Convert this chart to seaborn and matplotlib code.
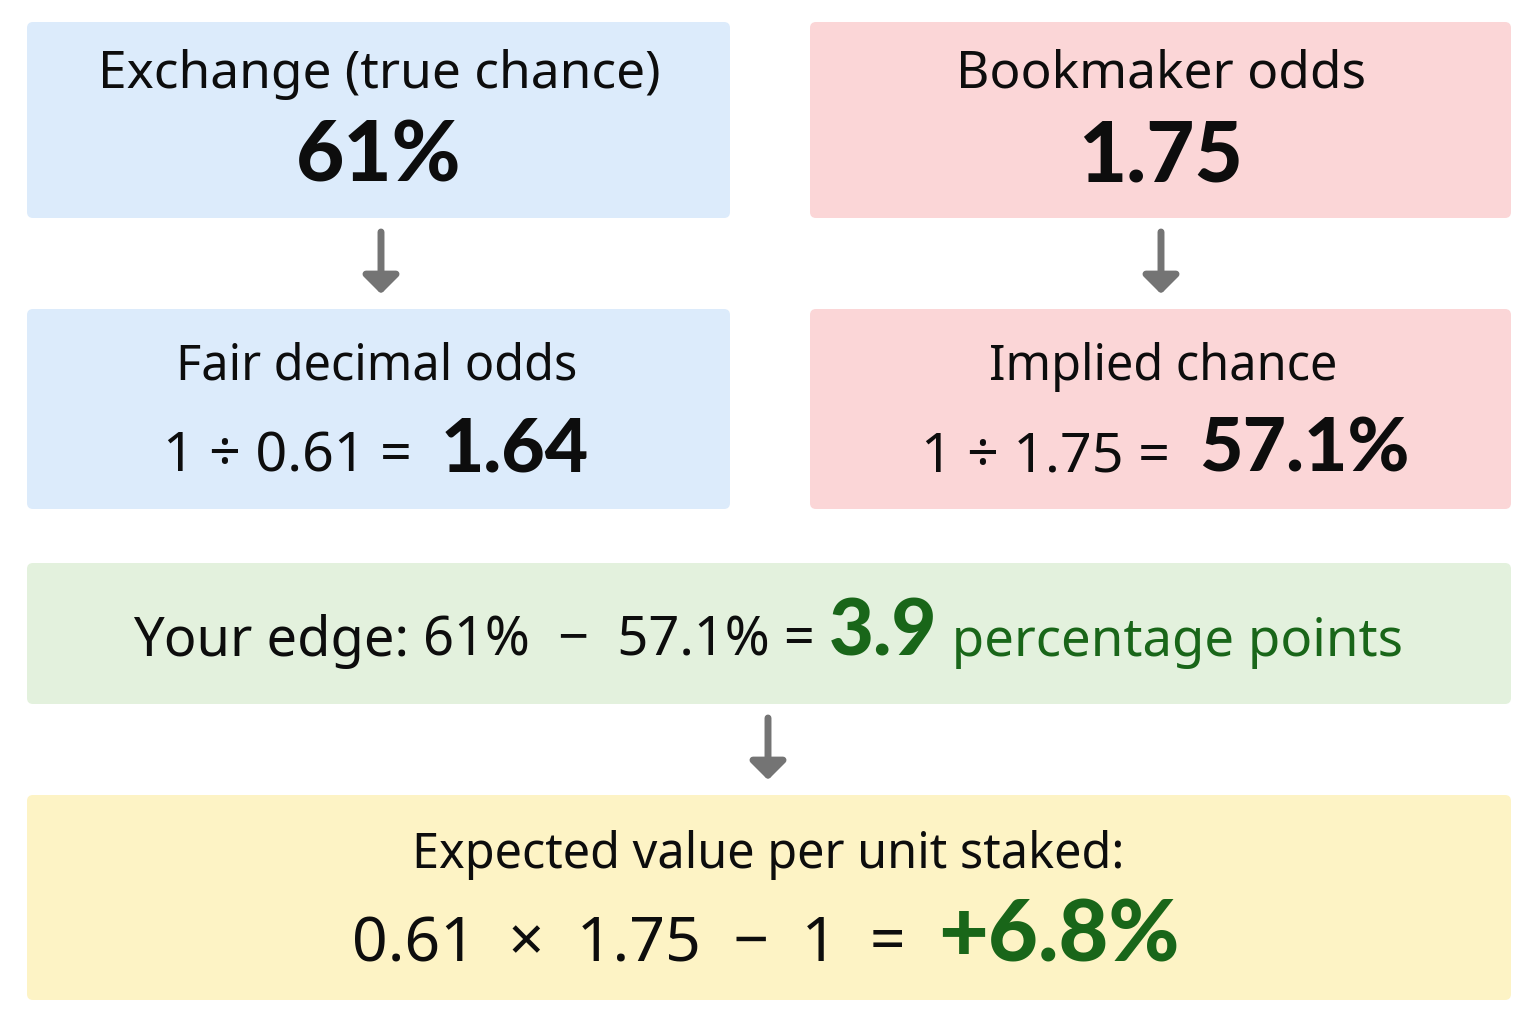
import matplotlib
matplotlib.use('Agg')
import matplotlib.pyplot as plt
from matplotlib.patches import FancyBboxPatch
import seaborn as sns

sns.set_theme(style='white')
plt.rcParams['font.family'] = ['Noto Sans', 'DejaVu Sans']
BOLD_FAMILY = ['Lato', 'Liberation Sans', 'DejaVu Sans']

# values shown in the chart
true_chance = 61
book_odds = 1.75
fair_odds = 1.64
implied_chance = 57.1
edge_points = 3.9
ev_percent = 6.8

BLUE, RED, GREEN, YELLOW = '#dcebfb', '#fbd6d7', '#e3f1dd', '#fdf3c5'
DARK_GREEN = '#196619'

fig = plt.figure(figsize=(15.36, 10.24), dpi=100)
ax = fig.add_axes([0, 0, 1, 1])
ax.set_xlim(0, 1536)
ax.set_ylim(1024, 0)
ax.axis('off')


def box(x0, y0, x1, y1, color):
    ax.add_patch(FancyBboxPatch((x0, y0), x1 - x0, y1 - y0,
                                boxstyle='round,pad=0,rounding_size=6',
                                fc=color, ec='none'))


def arrow(x, y0, y1):
    ax.annotate('', xy=(x, y1), xytext=(x, y0),
                arrowprops=dict(arrowstyle='-|>,head_width=0.9,head_length=0.9',
                                color='#747474', lw=5, shrinkA=0, shrinkB=0))


renderer = fig.canvas.get_renderer()


def line(pieces, cx, y):
    # pieces: (text, size, bold, color) drawn side by side, centred on cx
    texts, widths = [], []
    for s, size, bold, color in pieces:
        kw = dict(fontweight='black', family=BOLD_FAMILY) if bold else {}
        t = ax.text(0, y, s, fontsize=size, color=color,
                    va='baseline', ha='left', **kw)
        bb = t.get_window_extent(renderer)
        texts.append(t)
        widths.append(bb.width)
    x = cx - sum(widths) / 2
    for t, w in zip(texts, widths):
        t.set_x(x)
        x += w


box(27, 22, 730, 218, BLUE)
box(810, 22, 1511, 218, RED)
box(27, 309, 730, 509, BLUE)
box(810, 309, 1511, 509, RED)
box(27, 563, 1511, 704, GREEN)
box(27, 795, 1511, 1000, YELLOW)

arrow(381, 232, 294)
arrow(1161, 232, 294)
arrow(768, 718, 780)

k = '#0d0d0d'
line([('Exchange (true chance)', 37, False, k)], 379, 88)
line([(f'{true_chance}%', 60, True, k)], 379, 182)
line([('Bookmaker odds', 37, False, k)], 1161, 88)
line([(f'{book_odds:.2f}', 60, True, k)], 1161, 182)

line([('Fair decimal odds', 35, False, k)], 377, 380)
line([(f'1 ÷ 0.{true_chance} =  ', 40, False, k),
      (f'{fair_odds:.2f}', 54, True, k)], 376, 472)
line([('Implied chance', 35, False, k)], 1163, 380)
line([(f'1 ÷ {book_odds:.2f} =  ', 40, False, k),
      (f'{implied_chance}%', 54, True, k)], 1165, 472)

line([('Your edge: ', 39, False, k),
      (f'{true_chance}%  −  {implied_chance}% = ', 39, False, k),
      (f'{edge_points}', 56, True, DARK_GREEN),
      (' percentage points', 38, False, DARK_GREEN)], 768, 656)

line([('Expected value per unit staked:', 35, False, k)], 768, 868)
line([(f'0.{true_chance}  ×  {book_odds:.2f}  −  1  =  ', 45, False, k),
      (f'+{ev_percent}%', 62, True, DARK_GREEN)], 766, 962)

fig.savefig('out.png', dpi=100)
